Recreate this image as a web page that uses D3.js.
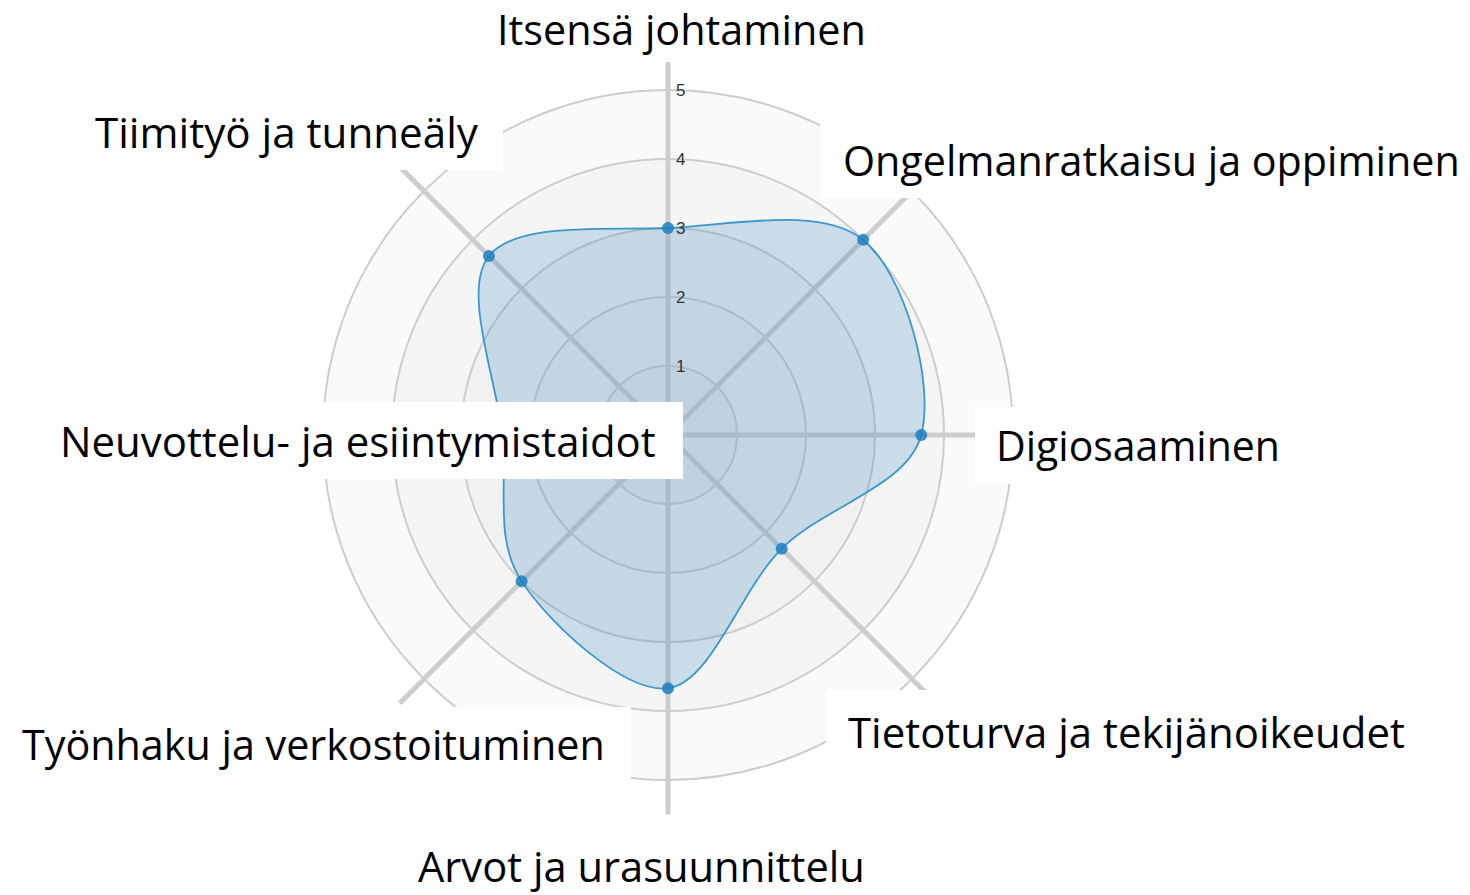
<!DOCTYPE html>
<html>
<head>
<meta charset="utf-8">
<script src="https://cdn.jsdelivr.net/npm/d3@7"></script>
<style>
  html, body { margin: 0; padding: 0; background: #fff; }
  svg { display: block; }
</style>
</head>
<body>
<svg id="chart" width="1470" height="895"></svg>
<script>
// ---- data ----
const axes = [
  "Itsensä johtaminen",
  "Ongelmanratkaisu ja oppiminen",
  "Digiosaaminen",
  "Tietoturva ja tekijänoikeudet",
  "Arvot ja urasuunnittelu",
  "Työnhaku ja verkostoituminen",
  "Neuvottelu- ja esiintymistaidot",
  "Tiimityö ja tunneäly"
];
const values = [3, 4, 3.67, 2.33, 3.67, 3, 2.4, 3.67];
const tickValues = [1, 2, 3, 4, 5];
const maxValue = 5;

// ---- layout ----
const cx = 668, cy = 435, R = 345;
const svg = d3.select("#chart");
const r = d3.scaleLinear().domain([0, maxValue]).range([0, R]);
const angle = i => i * 2 * Math.PI / axes.length;

const g = svg.append("g").attr("transform", `translate(${cx},${cy})`);

// grid circles (stacked translucent fills)
g.selectAll("circle.grid")
  .data(tickValues.slice().reverse())
  .join("circle")
  .attr("class", "grid")
  .attr("r", d => r(d))
  .attr("fill", "#CDCDCD")
  .attr("fill-opacity", 0.1)
  .attr("stroke", "#CDCDCD")
  .attr("stroke-width", 2);

// axis lines
g.selectAll("line.axis")
  .data(axes)
  .join("line")
  .attr("class", "axis")
  .attr("x1", 0).attr("y1", 0)
  .attr("x2", (d, i) => r(maxValue * 1.1) * Math.sin(angle(i)))
  .attr("y2", (d, i) => -r(maxValue * 1.1) * Math.cos(angle(i)))
  .attr("stroke", "#CDCDCD")
  .attr("stroke-width", 5);

// blob
const radial = d3.lineRadial()
  .angle((d, i) => angle(i))
  .radius(d => r(d))
  .curve(d3.curveCardinalClosed);

g.append("path")
  .datum(values)
  .attr("d", radial)
  .attr("fill", "#1f77b4")
  .attr("fill-opacity", 0.2)
  .attr("stroke", "#3b98cc")
  .attr("stroke-width", 1.8);

g.selectAll("circle.dot")
  .data(values)
  .join("circle")
  .attr("class", "dot")
  .attr("cx", (d, i) => r(d) * Math.sin(angle(i)))
  .attr("cy", (d, i) => -r(d) * Math.cos(angle(i)))
  .attr("r", 6)
  .attr("fill", "#1f7fbf")
  .attr("fill-opacity", 0.85);

// tick labels
g.selectAll("text.tick")
  .data(tickValues)
  .join("text")
  .attr("class", "tick")
  .attr("x", 8)
  .attr("y", d => -r(d))
  .attr("dy", "0.36em")
  .attr("font-family", "Arial, 'Liberation Sans', sans-serif")
  .attr("font-size", 17)
  .attr("fill", "#333")
  .text(d => d);

// category labels with white boxes (layout only)
const labelLayout = [
  {box: [477, 0, 886, 62],    x: 497, right: 866,  y: 45},
  {box: [820, 115, 1470, 198], x: 843, right: 1460, y: 176},
  {box: [975, 407, 1470, 484], x: 996, right: 1280, y: 461},
  {box: [826, 690, 1430, 778], x: 848, right: 1405, y: 748},
  {box: [398, 830, 890, 895],  x: 418, right: 865,  y: 882},
  {box: [0, 707, 631, 785],    x: 22,  right: 605,  y: 760},
  {box: [40, 402, 683, 479],   x: 60,  right: 656,  y: 457},
  {box: [75, 98, 503, 170],    x: 95,  right: 478,  y: 148}
];

const lab = svg.append("g");
axes.forEach((name, i) => {
  const L = labelLayout[i];
  lab.append("rect")
    .attr("x", L.box[0]).attr("y", L.box[1])
    .attr("width", L.box[2] - L.box[0]).attr("height", L.box[3] - L.box[1])
    .attr("fill", "#fff");
  const tg = lab.append("g");
  const t = tg.append("text")
    .attr("x", 0).attr("y", 0)
    .attr("font-family", "'Open Sans', 'Noto Sans', sans-serif")
    .attr("font-size", 42)
    .attr("fill", "#000")
    .text(name);
  const natural = t.node().getComputedTextLength();
  const sx = (L.right - L.x) / natural;
  tg.attr("transform", `translate(${L.x},${L.y}) scale(${sx},1)`);
});
</script>
</body>
</html>
